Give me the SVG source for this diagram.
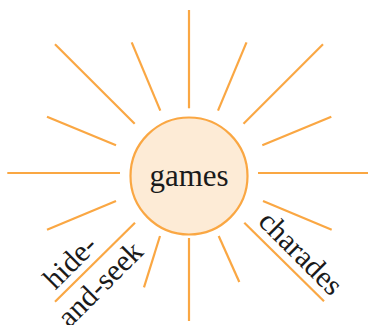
<svg xmlns="http://www.w3.org/2000/svg" width="368" height="325" viewBox="0 0 368 325">
  <style>
    .ray { stroke: #FAA743; stroke-width: 2.2; stroke-linecap: butt; fill: none; }
    .hub { fill: #FDEBD6; stroke: #FAA743; stroke-width: 2.2; }
    .lbl { font-family: "Liberation Serif", "DejaVu Serif", serif; font-size: 30px; fill: #1a1a1a; text-anchor: middle; }
  </style>
  <rect width="368" height="325" fill="#ffffff"/>
  <g id="connectors">
    <line class="ray" x1="189" y1="10" x2="189" y2="108.3"/>
    <line class="ray" x1="189" y1="238" x2="189" y2="321"/>
    <line class="ray" x1="7.3" y1="173" x2="120" y2="173"/>
    <line class="ray" x1="258" y1="173" x2="368" y2="173"/>
    <line class="ray" x1="55" y1="44.3" x2="134.7" y2="123.7"/>
    <line class="ray" x1="131.7" y1="42.3" x2="160.3" y2="110.7"/>
    <line class="ray" x1="47" y1="116.7" x2="116" y2="145.3"/>
    <line class="ray" x1="246.5" y1="42.3" x2="218" y2="110.7"/>
    <line class="ray" x1="323" y1="44.3" x2="243.5" y2="123.7"/>
    <line class="ray" x1="331.3" y1="116.7" x2="262.3" y2="145.3"/>
    <line class="ray" x1="116" y1="201" x2="47" y2="229.7"/>
    <line class="ray" x1="135" y1="222.7" x2="55" y2="301.7"/>
    <line class="ray" x1="160" y1="236" x2="144" y2="287.3"/>
    <line class="ray" x1="263" y1="201" x2="331.7" y2="229.7"/>
    <line class="ray" x1="244.3" y1="222.7" x2="324" y2="301.3"/>
    <line class="ray" x1="218.7" y1="236" x2="239.3" y2="282"/>
    <text class="lbl" transform="translate(294,260) rotate(45)">charades</text>
    <text class="lbl" transform="translate(77,269) rotate(-45)">hide-</text>
    <text class="lbl" transform="translate(107,291) rotate(-45)">and-seek</text>
  </g>
  <g id="games">
    <circle class="hub" cx="189" cy="176" r="58.5"/>
    <text class="lbl" x="189" y="185.5" style="font-size:31px">games</text>
  </g>
</svg>
